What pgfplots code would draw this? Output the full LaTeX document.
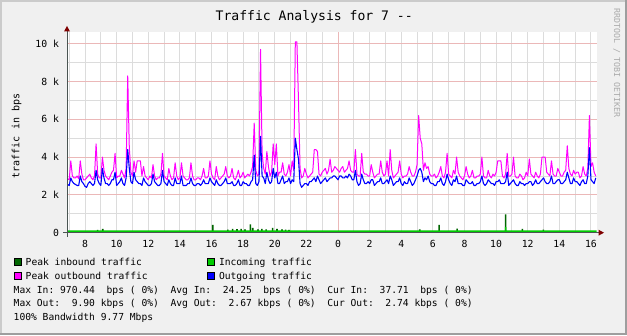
\documentclass[border=0pt]{standalone}
\usepackage{fontspec}
\setmonofont{DejaVu Sans Mono}
\usepackage{pgfplots}
\pgfplotsset{compat=1.18}
\usepackage{pgfplotstable}
\definecolor{bgc}{HTML}{F0F0F0}
\definecolor{shadea}{HTML}{CBCBCB}
\definecolor{shadeb}{HTML}{9E9E9E}
\definecolor{gridc}{HTML}{DCDCDC}
\definecolor{mgridc}{HTML}{EBB8B8}
\definecolor{axisc}{HTML}{4A5552}
\definecolor{arrowc}{HTML}{7F0000}
\definecolor{wmc}{HTML}{AAAAAA}
\definecolor{pingreen}{HTML}{006600}
\definecolor{ingreen}{HTML}{00CC00}
\definecolor{poutc}{HTML}{FF00FF}
\definecolor{outc}{HTML}{0000FF}

\pgfplotstableread{
h pout aout
6.9 2.85 2.55
7.0 2.8 2.5
7.1 3.8 2.9
7.2 3.0 2.7
7.3 2.9 2.6
7.4 2.9 2.55
7.5 3.0 2.5
7.6 2.85 2.5
7.7 3.8 3.0
7.8 3.1 2.7
7.9 2.8 2.6
8.0 2.8 2.45
8.1 2.9 2.4
8.2 3.0 2.6
8.3 3.1 2.7
8.4 2.9 2.6
8.5 2.8 2.5
8.6 3.0 2.6
8.7 4.7 3.3
8.8 3.1 2.8
8.9 2.9 2.6
9.0 2.9 2.5
9.1 4.0 3.4
9.2 3.3 2.9
9.3 3.0 2.6
9.4 2.9 2.6
9.5 2.8 2.5
9.6 3.0 2.6
9.7 3.2 2.8
9.8 3.3 2.8
9.9 4.2 3.2
10.0 2.9 2.5
10.1 3.0 2.6
10.2 3.0 2.7
10.3 3.3 2.9
10.4 3.1 2.6
10.5 2.9 2.5
10.6 3.4 2.9
10.7 8.3 4.4
10.8 4.5 3.4
10.9 3.2 2.7
11.0 3.0 2.6
11.1 3.8 3.2
11.2 3.2 2.8
11.3 3.8 2.7
11.4 3.8 2.6
11.5 3.8 2.6
11.6 3.0 2.5
11.7 3.5 2.9
11.8 3.0 2.7
11.9 2.9 2.6
12.0 2.8 2.5
12.1 3.0 2.5
12.2 2.9 2.6
12.3 3.6 3.1
12.4 3.0 2.7
12.5 2.8 2.6
12.6 2.9 2.5
12.7 2.9 2.5
12.8 3.1 2.6
12.9 4.2 3.3
13.0 3.0 2.7
13.1 2.9 2.6
13.2 2.8 2.5
13.3 3.4 2.8
13.4 3.0 2.6
13.5 2.8 2.5
13.6 2.9 2.5
13.7 3.7 2.9
13.8 3.0 2.6
13.9 2.8 2.6
14.0 2.9 2.6
14.1 3.7 3.0
14.2 3.0 2.5
14.3 2.9 2.5
14.4 2.8 2.5
14.5 2.8 2.6
14.6 2.9 2.6
14.7 3.7 2.9
14.8 3.0 2.6
14.9 2.8 2.5
15.0 2.8 2.5
15.1 2.9 2.6
15.2 2.9 2.6
15.3 2.8 2.5
15.4 3.0 2.6
15.5 3.4 2.8
15.6 2.9 2.6
15.7 2.9 2.6
15.8 3.0 2.6
15.9 3.8 2.9
16.0 3.1 2.7
16.1 2.9 2.6
16.2 2.8 2.5
16.3 3.5 2.8
16.4 3.0 2.6
16.5 2.8 2.5
16.6 2.9 2.5
16.7 3.0 2.6
16.8 3.1 2.7
16.9 3.5 2.9
17.0 3.0 2.6
17.1 2.9 2.6
17.2 3.0 2.6
17.3 3.4 2.7
17.4 2.9 2.5
17.5 2.8 2.5
17.6 3.0 2.6
17.7 3.3 2.8
17.8 2.9 2.5
17.9 3.0 2.5
18.0 3.2 2.7
18.1 2.9 2.6
18.2 3.0 2.6
18.3 3.1 2.5
18.4 3.0 2.5
18.5 3.2 2.7
18.6 3.5 2.8
18.7 5.8 4.1
18.8 3.3 2.6
18.9 3.0 2.5
19.0 3.1 2.7
19.1 9.7 5.1
19.2 4.2 3.0
19.3 3.4 2.9
19.4 3.1 2.6
19.5 4.3 3.2
19.6 3.5 2.8
19.7 3.0 2.6
19.8 3.2 2.7
19.9 4.7 3.4
20.0 3.6 2.9
20.1 4.7 3.2
20.2 3.0 2.6
20.3 3.2 2.6
20.4 3.2 2.8
20.5 3.7 3.0
20.6 3.1 2.6
20.7 3.0 2.7
20.8 3.2 2.7
20.9 3.6 2.9
21.0 3.0 2.6
21.1 3.8 2.8
21.2 3.3 2.7
21.3 10.1 5.0
21.4 10.1 4.4
21.5 7.0 3.9
21.6 3.4 2.6
21.7 2.9 2.4
21.8 3.0 2.5
21.9 3.4 2.6
22.0 3.1 2.6
22.1 2.9 2.5
22.2 3.0 2.7
22.3 3.1 2.7
22.4 3.2 2.8
22.5 4.4 2.9
22.6 4.4 2.7
22.7 4.3 3.0
22.8 3.1 2.8
22.9 3.0 2.6
23.0 3.2 2.7
23.1 3.3 2.8
23.2 3.4 2.9
23.3 3.1 2.7
23.4 3.3 2.8
23.5 3.9 2.9
23.6 3.2 2.9
23.7 3.3 3.0
23.8 3.5 3.0
23.9 3.4 2.9
24.0 3.3 2.8
24.1 3.2 3.0
24.2 3.4 3.0
24.3 3.5 2.9
24.4 3.2 2.9
24.5 3.3 3.0
24.6 3.4 2.9
24.7 3.8 3.1
24.8 3.3 3.0
24.9 3.2 2.8
25.0 3.2 2.8
25.1 4.4 3.3
25.2 3.1 2.7
25.3 3.0 2.5
25.4 3.0 2.6
25.5 4.2 3.1
25.6 3.2 2.8
25.7 3.1 2.6
25.8 3.1 2.6
25.9 3.0 2.7
26.0 3.0 2.6
26.1 3.6 2.8
26.2 3.2 2.8
26.3 2.9 2.5
26.4 3.0 2.6
26.5 3.1 2.7
26.6 3.1 2.7
26.7 3.8 2.9
26.8 3.2 2.6
26.9 3.0 2.6
27.0 3.1 2.7
27.1 3.8 2.8
27.2 3.0 2.6
27.3 4.4 3.0
27.4 3.3 2.8
27.5 2.9 2.5
27.6 3.0 2.6
27.7 3.1 2.7
27.8 3.2 2.7
27.9 3.8 2.9
28.0 3.1 2.6
28.1 2.9 2.5
28.2 3.0 2.7
28.3 3.0 2.6
28.4 3.1 2.6
28.5 3.5 2.9
28.6 3.2 2.7
28.7 3.0 2.5
28.8 3.0 2.6
28.9 3.2 2.8
29.0 3.6 3.0
29.1 6.2 3.3
29.2 5.0 3.4
29.3 4.7 3.2
29.4 3.3 2.7
29.5 3.7 2.9
29.6 3.4 2.8
29.7 3.5 3.0
29.8 3.1 2.7
29.9 3.0 2.6
30.0 3.0 2.6
30.1 3.1 2.5
30.2 2.9 2.5
30.3 3.0 2.7
30.4 3.2 2.7
30.5 3.5 2.9
30.6 3.0 2.6
30.7 2.9 2.5
30.8 3.2 2.7
30.9 4.2 3.1
31.0 3.1 2.8
31.1 3.0 2.6
31.2 2.9 2.5
31.3 3.3 2.8
31.4 3.1 2.7
31.5 4.0 3.0
31.6 3.2 2.6
31.7 3.0 2.6
31.8 2.9 2.6
31.9 2.8 2.5
32.0 3.0 2.5
32.1 3.5 2.8
32.2 3.1 2.7
32.3 2.9 2.6
32.4 3.0 2.6
32.5 3.3 2.7
32.6 2.9 2.5
32.7 2.9 2.5
32.8 3.0 2.6
32.9 3.0 2.6
33.0 3.1 2.7
33.1 4.0 3.0
33.2 3.0 2.6
33.3 2.9 2.5
33.4 2.9 2.6
33.5 3.3 2.8
33.6 3.0 2.7
33.7 2.9 2.6
33.8 3.1 2.6
33.9 3.0 2.5
34.0 3.2 2.7
34.1 3.8 2.7
34.2 3.8 2.8
34.3 3.8 2.6
34.4 3.0 2.6
34.5 2.9 2.6
34.6 3.1 2.7
34.7 4.2 3.2
34.8 3.0 2.5
34.9 3.0 2.6
35.0 3.1 2.7
35.1 4.0 2.8
35.2 3.0 2.6
35.3 2.9 2.5
35.4 2.9 2.5
35.5 3.1 2.7
35.6 3.0 2.6
35.7 2.8 2.6
35.8 2.9 2.5
35.9 3.2 2.6
36.0 3.0 2.6
36.1 3.9 2.7
36.2 3.1 2.7
36.3 3.0 2.5
36.4 2.9 2.6
36.5 3.2 2.8
36.6 3.0 2.6
36.7 2.9 2.6
36.8 3.1 2.7
36.9 4.0 2.8
37.0 4.0 2.9
37.1 4.0 2.7
37.2 3.2 2.6
37.3 3.1 2.6
37.4 3.0 2.7
37.5 3.8 3.0
37.6 3.1 2.6
37.7 3.0 2.6
37.8 3.0 2.7
37.9 3.4 2.8
38.0 3.2 2.8
38.1 3.0 2.6
38.2 3.0 2.6
38.3 3.2 2.7
38.4 3.3 2.8
38.5 4.6 3.2
38.6 3.4 2.9
38.7 3.1 2.6
38.8 3.0 2.6
38.9 3.3 2.9
39.0 3.1 2.7
39.1 3.2 2.7
39.2 3.2 2.6
39.3 2.9 2.5
39.4 3.0 2.7
39.5 3.5 2.8
39.6 3.1 2.6
39.7 3.0 2.6
39.8 3.4 3.0
39.9 6.2 4.5
40.0 3.5 2.8
40.1 3.7 2.7
40.2 3.2 2.6
40.3 3.0 2.9
}\outdata

\newcommand{\legfont}{\ttfamily\fontsize{9.65}{11}\selectfont}

\begin{document}
\begin{tikzpicture}
\path[use as bounding box] (0pt,0pt) rectangle (627pt,335pt);
\fill[bgc] (0pt,0pt) rectangle (627pt,335pt);
\fill[shadea] (0pt,333pt) rectangle (627pt,335pt);
\fill[shadea] (0pt,0pt) rectangle (2pt,335pt);
\fill[shadeb] (0pt,0pt) rectangle (627pt,2pt);
\fill[shadeb] (625pt,0pt) rectangle (627pt,335pt);

\begin{axis}[
  at={(67pt,102.3pt)}, anchor=south west,
  width=530pt, height=200.7pt, scale only axis,
  xmin=6.86, xmax=40.38, ymin=0, ymax=10.62,
  axis line style={draw=none},
  axis background/.style={fill=white},
  xtick={8,10,12,14,16,18,20,22,26,28,30,32,34,36,38,40},
  xticklabels={8,10,12,14,16,18,20,22,2,4,6,8,10,12,14,16},
  extra x ticks={24}, extra x tick labels={0},
  extra x tick style={grid=major, major grid style={mgridc, line width=1pt}},
  minor xtick={7,8,...,40},
  ytick={0,2,4,6,8,10}, yticklabels={0,2 k,4 k,6 k,8 k,10 k},
  minor ytick={1,3,5,7,9},
  xminorgrids=true, ymajorgrids=true, yminorgrids=true,
  major grid style={mgridc, line width=1pt},
  minor grid style={gridc, line width=1pt},
  major tick length=0pt, minor tick length=0pt,
  tick label style={font=\ttfamily\fontsize{9.8}{11}\selectfont, inner sep=0pt},
  xticklabel style={anchor=north, yshift=-7.3pt},
  yticklabel style={anchor=east, xshift=-7.7pt},
]
\addplot[draw=none, fill=pingreen] coordinates {
(6.86,0.03)
(8.75,0.03)(8.75,0.15)(8.85,0.15)(8.85,0.03)
(9.07,0.03)(9.07,0.2)(9.17,0.2)(9.17,0.03)
(16.03,0.03)(16.03,0.42)(16.13,0.42)(16.13,0.03)
(16.98,0.03)(16.98,0.16)(17.08,0.16)(17.08,0.03)
(17.29,0.03)(17.29,0.2)(17.39,0.2)(17.39,0.03)
(17.56,0.03)(17.56,0.19)(17.66,0.19)(17.66,0.03)
(17.82,0.03)(17.82,0.2)(17.92,0.2)(17.92,0.03)
(18.07,0.03)(18.07,0.18)(18.17,0.18)(18.17,0.03)
(18.41,0.03)(18.41,0.44)(18.51,0.44)(18.51,0.03)
(18.56,0.03)(18.56,0.25)(18.66,0.25)(18.66,0.03)
(18.89,0.03)(18.89,0.18)(18.99,0.18)(18.99,0.03)
(19.13,0.03)(19.13,0.2)(19.23,0.2)(19.23,0.03)
(19.4,0.03)(19.4,0.18)(19.5,0.18)(19.5,0.03)
(19.82,0.03)(19.82,0.25)(19.92,0.25)(19.92,0.03)
(20.09,0.03)(20.09,0.2)(20.19,0.2)(20.19,0.03)
(20.41,0.03)(20.41,0.18)(20.51,0.18)(20.51,0.03)
(20.64,0.03)(20.64,0.16)(20.74,0.16)(20.74,0.03)
(20.85,0.03)(20.85,0.15)(20.95,0.15)(20.95,0.03)
(29.12,0.03)(29.12,0.17)(29.22,0.17)(29.22,0.03)
(30.34,0.03)(30.34,0.42)(30.44,0.42)(30.44,0.03)
(31.48,0.03)(31.48,0.22)(31.58,0.22)(31.58,0.03)
(34.55,0.03)(34.55,0.97)(34.65,0.97)(34.65,0.03)
(35.61,0.03)(35.61,0.2)(35.71,0.2)(35.71,0.03)
(36.94,0.03)(36.94,0.16)(37.04,0.16)(37.04,0.03)
(40.35,0.03)
} \closedcycle;
\addplot[draw=none, fill=ingreen] coordinates {
(6.86,0.12)(34.55,0.12)(34.55,0.3)(34.65,0.3)(34.65,0.12)(40.35,0.12)
} \closedcycle;
\addplot[sharp plot, color=poutc, line width=1pt, line join=round] table[x=h, y=pout] {\outdata};
\addplot[sharp plot, color=outc, line width=1.1pt, line join=round] table[x=h, y=aout] {\outdata};
\end{axis}

\draw[axisc, line width=0.8pt] (63pt,102.3pt) -- (599pt,102.3pt);
\fill[arrowc] (598.5pt,99.3pt) -- (604pt,102.3pt) -- (598.5pt,105.3pt) -- cycle;
\draw[axisc, line width=0.9pt] (67pt,98.3pt) -- (67pt,304.5pt);
\fill[arrowc] (64pt,303.5pt) -- (67pt,309pt) -- (70pt,303.5pt) -- cycle;

\node[font=\ttfamily\fontsize{13.1}{15}\selectfont, anchor=base] at (314.2pt,314pt) {Traffic Analysis for 7 -{}-};
\node[rotate=90, font=\ttfamily\fontsize{10}{12}\selectfont, anchor=center] at (16.5pt,199pt) {traffic in bps};
\node[rotate=-90, font=\ttfamily\fontsize{8.3}{10}\selectfont, text=wmc, anchor=center] at (616.7pt,272pt) {RRDTOOL / TOBI OETIKER};

\draw[black, line width=0.8pt, fill=pingreen] (14.5pt,69.7pt) rectangle (21.5pt,76.7pt);
\node[font=\legfont, anchor=base west, inner sep=0pt] at (25.5pt,69.7pt) {Peak inbound traffic};
\draw[black, line width=0.8pt, fill=ingreen] (207.7pt,69.7pt) rectangle (214.5pt,76.7pt);
\node[font=\legfont, anchor=base west, inner sep=0pt] at (218.8pt,69.7pt) {Incoming traffic};
\draw[black, line width=0.8pt, fill=poutc] (14.5pt,56pt) rectangle (21.5pt,63pt);
\node[font=\legfont, anchor=base west, inner sep=0pt] at (25.5pt,56pt) {Peak outbound traffic};
\draw[black, line width=0.8pt, fill=outc] (207.7pt,56pt) rectangle (214.5pt,63pt);
\node[font=\legfont, anchor=base west, inner sep=0pt] at (218.8pt,56pt) {Outgoing traffic};

\node[font=\legfont, anchor=base west, inner sep=0pt] at (13.5pt,41.7pt) {Max~In:~970.44~~bps~(~0\%)~~Avg~In:~~24.25~~bps~(~0\%)~~Cur~In:~~37.71~~bps~(~0\%)};
\node[font=\legfont, anchor=base west, inner sep=0pt] at (13.5pt,28.3pt) {Max~Out:~~9.90~kbps~(~0\%)~~Avg~Out:~~2.67~kbps~(~0\%)~~Cur~Out:~~2.74~kbps~(~0\%)};
\node[font=\legfont, anchor=base west, inner sep=0pt] at (13.5pt,14.3pt) {100\%~Bandwidth~9.77~Mbps};
\end{tikzpicture}
\end{document}
